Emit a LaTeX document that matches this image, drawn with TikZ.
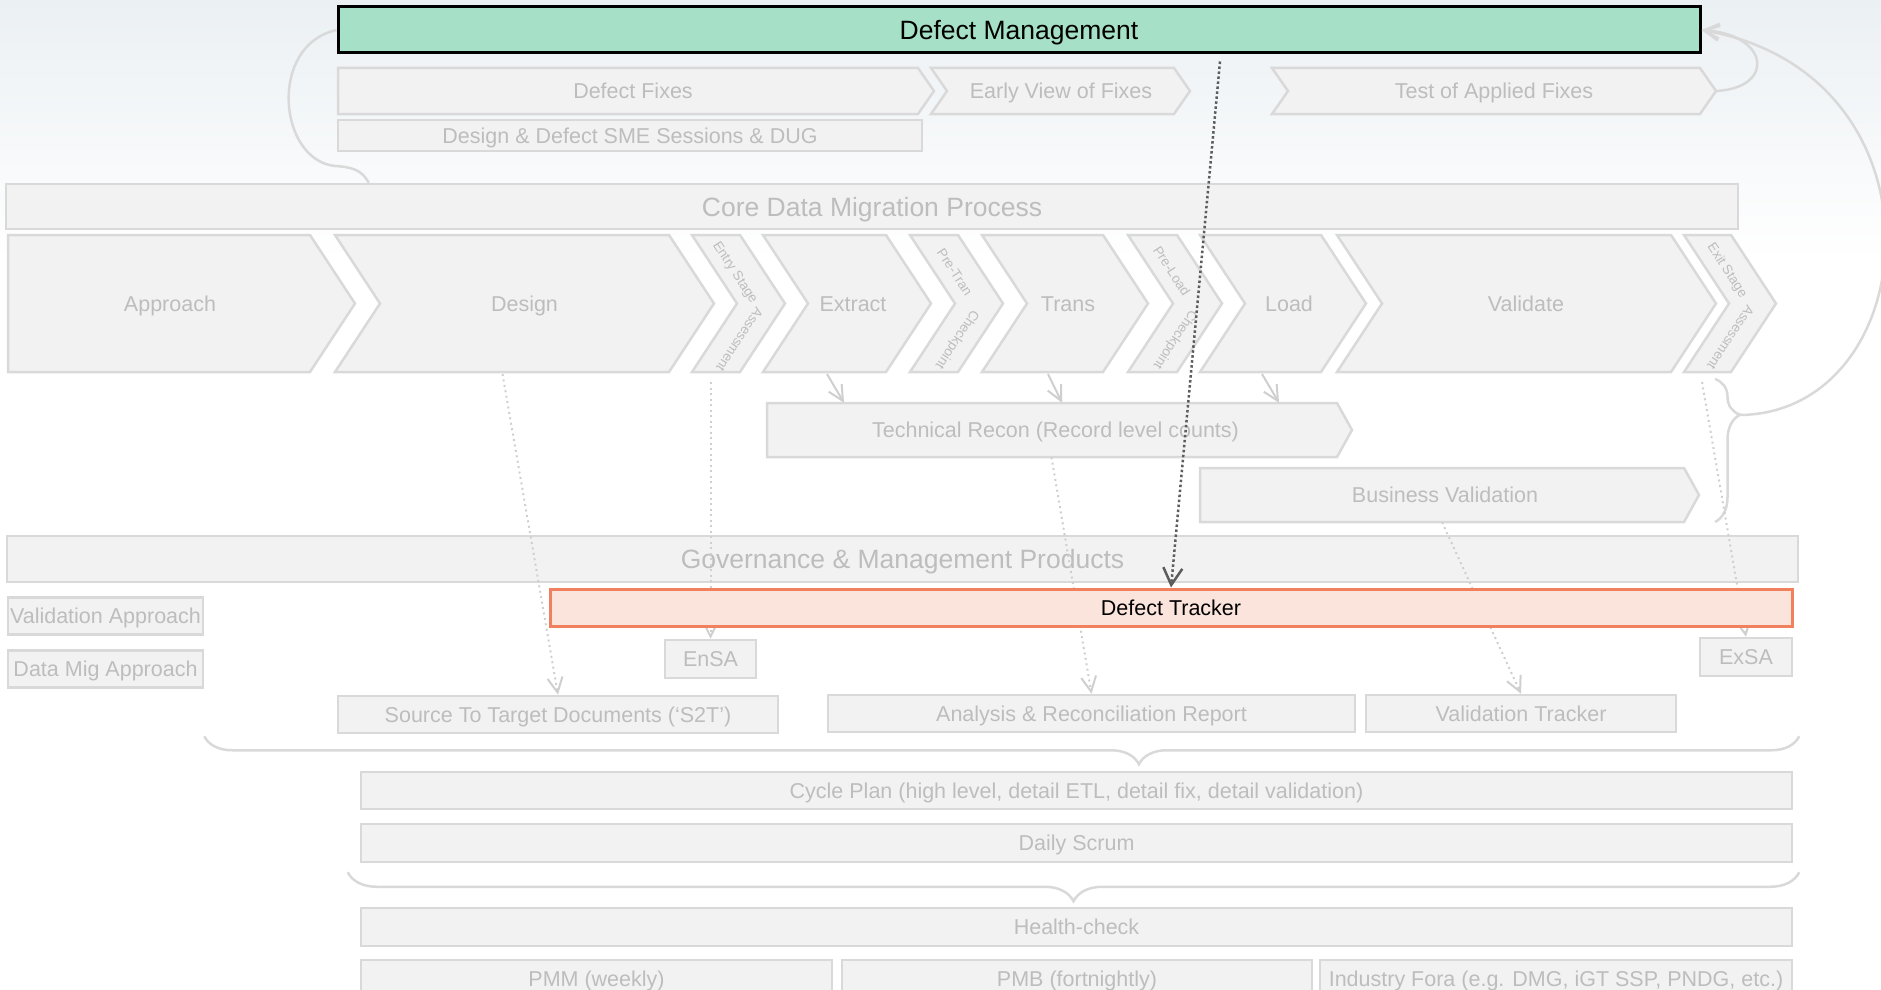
\documentclass[tikz,border=0pt]{standalone}
\usepackage{fontspec}
\setmainfont{Liberation Sans}
\usepackage{tikz}
\usetikzlibrary{arrows.meta,decorations.pathreplacing}

\definecolor{boxfill}{HTML}{F2F2F2}
\definecolor{boxline}{HTML}{D9D9D9}
\definecolor{greytext}{HTML}{BDBDBD}
\definecolor{dotline}{HTML}{CFCFCF}
\definecolor{mint}{HTML}{A6E0C7}
\definecolor{salmon}{HTML}{FBE4DC}
\definecolor{coral}{HTML}{F0805E}
\definecolor{darkdot}{HTML}{5C5C5C}
\definecolor{haze}{HTML}{EBF0F3}

\begin{document}
\begin{tikzpicture}[
x=1pt,y=-1pt,
box/.style={draw=boxline,fill=boxfill,line width=2.5pt},
txt/.style={text=greytext,inner sep=0pt,font=\fontsize{21.5}{25}\selectfont,text height=19.8pt,text depth=4.4pt},
bigtxt/.style={txt,font=\fontsize{26.5}{31}\selectfont,text height=24.4pt,text depth=5.4pt},
gatetxt/.style={txt,font=\fontsize{13.5}{16}\selectfont,text height=12.4pt,text depth=2.7pt},
panel/.style={box,txt,rectangle},
link/.style={draw=dotline,line width=2pt,-{Straight Barb[length=15pt,width=15pt]}},
trace/.style={link,dash pattern=on 2pt off 3.5pt},
feedback/.style={link,draw=boxline,line width=2.5pt},
brc/.style={draw=boxline,line width=2.5pt,decorate}
]
% faint sky behind the top rows
\fill[top color=haze,bottom color=white] (0,0) rectangle (1881,260);
\useasboundingbox (0,0) rectangle (1881,990);

% defect management band and the fix cycle
\node[panel,bigtxt,draw=black,fill=mint,text=black,line width=3pt,minimum width=1362pt,minimum height=46pt] (defmgmt) at (1019,30) {Defect Management};
\draw[box] (338,68) -- (918,68) -- (934,91) -- (918,114) -- (338,114) -- cycle;
\node[txt] (fixes) at (633,91) {Defect Fixes};
\draw[box] (931,68) -- (1174,68) -- (1190,91) -- (1174,114) -- (931,114) -- (947,91) -- cycle;
\node[txt] (earlyview) at (1061,91) {Early View of Fixes};
\draw[box] (1272,68) -- (1700,68) -- (1716,91) -- (1700,114) -- (1272,114) -- (1288,91) -- cycle;
\node[txt,minimum width=444pt] (testfix) at (1494,91) {Test of Applied Fixes};
\node[panel,minimum width=584pt,minimum height=31pt] (smedug) at (630,135.5) {Design \& Defect SME Sessions \& DUG};

% core process
\node[panel,bigtxt,minimum width=1732pt,minimum height=45pt] (core) at (872,206.5) {Core Data Migration Process};

\draw[box] (8,235) -- (310,235) -- (355,303.5) -- (310,372) -- (8,372) -- cycle;
\node[txt] (approach) at (170,303.5) {Approach};
\draw[box] (335,235) -- (669,235) -- (714,303.5) -- (669,372) -- (335,372) -- (380,303.5) -- cycle;
\node[txt] (design) at (524.5,303.5) {Design};
\draw[box] (692,235) -- (740,235) -- (785,303.5) -- (740,372) -- (692,372) -- (737,303.5) -- cycle;
\node[gatetxt,rotate=-56.7] (entrya) at (736,272) {Entry Stage};
\node[gatetxt,rotate=-123.3] (entryb) at (740,340) {Assessment};
\draw[box] (763,235) -- (886,235) -- (931,303.5) -- (886,372) -- (763,372) -- (808,303.5) -- cycle;
\node[txt] (extract) at (853,303.5) {Extract};
\draw[box] (910,235) -- (958,235) -- (1003,303.5) -- (958,372) -- (910,372) -- (955,303.5) -- cycle;
\node[gatetxt,rotate=-56.7] (pretrana) at (955,272) {Pre-Tran};
\node[gatetxt,rotate=-123.3] (pretranb) at (958,340) {Checkpoint};
\draw[box] (982,235) -- (1103,235) -- (1148,303.5) -- (1103,372) -- (982,372) -- (1027,303.5) -- cycle;
\node[txt] (trans) at (1068,303.5) {Trans};
\draw[box] (1128,235) -- (1177,235) -- (1222,303.5) -- (1177,372) -- (1128,372) -- (1173,303.5) -- cycle;
\node[gatetxt,rotate=-56.7] (preloada) at (1172,271) {Pre-Load};
\node[gatetxt,rotate=-123.3] (preloadb) at (1176,340) {Checkpoint};
\draw[box] (1200,235) -- (1321,235) -- (1366,303.5) -- (1321,372) -- (1200,372) -- (1245,303.5) -- cycle;
\node[txt] (load) at (1289,303.5) {Load};
\draw[box] (1337,235) -- (1671,235) -- (1716,303.5) -- (1671,372) -- (1337,372) -- (1382,303.5) -- cycle;
\node[txt] (validate) at (1526,303.5) {Validate};
\draw[box] (1684,235) -- (1731,235) -- (1776,303.5) -- (1731,372) -- (1684,372) -- (1729,303.5) -- cycle;
\node[gatetxt,rotate=-56.7] (exita) at (1728,270) {Exit Stage};
\node[gatetxt,rotate=-123.3] (exitb) at (1731,338) {Assessment};
\coordinate (base) at (0,372);

% reconciliation and validation
\draw[box] (767,403) -- (1337,403) -- (1352,430) -- (1337,457) -- (767,457) -- cycle;
\node[txt,minimum width=585pt,minimum height=54pt] (recon) at (1055.5,430) {Technical Recon (Record level counts)};
\draw[box] (1200,468) -- (1684,468) -- (1699,495) -- (1684,522) -- (1200,522) -- cycle;
\node[txt,minimum width=499pt,minimum height=54pt] (bizval) at (1445,495) {Business Validation};

\draw[link] ([shift={(-26pt,-2pt)}]extract |- base) -- ([xshift=-9pt]extract |- recon.north);
\draw[link] ([shift={(-20pt,-2pt)}]trans |- base) -- ([xshift=-6pt]trans |- recon.north);
\draw[link] ([shift={(-27pt,-2pt)}]load |- base) -- ([xshift=-10pt]load |- recon.north);

% right-hand brace feeding back to defect management
\draw[brc,decoration={brace,amplitude=25pt,aspect=0.25}] (1715,379) -- (1715,522);
\coordinate (cusp) at (1739,415);
\draw[feedback] (cusp) .. controls (1925,414) and (1955,75) .. (defmgmt.east);
\draw[feedback] (testfix.east) .. controls (1775,88) and (1770,35) .. (defmgmt.east);
\draw[draw=boxline,line width=2.5pt] ([xshift=364pt]core.north west) .. controls (362,170) and (352,167) .. (335,166) .. controls (278,160) and (268,45) .. (defmgmt.west);

% governance and products
\node[panel,bigtxt,minimum width=1791pt,minimum height=46pt] (gov) at (902.5,559) {Governance \& Management Products};
\node[panel,minimum width=195pt,minimum height=37pt] (valapp) at (105.5,616) {Validation Approach};
\node[panel,minimum width=195pt,minimum height=37pt] (migapp) at (105.5,669) {Data Mig Approach};
\node[panel,minimum width=91pt,minimum height=38pt] (ensa) at (710.5,659) {EnSA};
\node[panel,minimum width=92pt,minimum height=38pt] (exsa) at (1746,657) {ExSA};
\node[panel,minimum width=440pt,minimum height=37pt] (s2t) at (558,714.5) {Source To Target Documents (‘S2T’)};
\node[panel,minimum width=527pt,minimum height=37pt] (anrep) at (1091.5,713.5) {Analysis \& Reconciliation Report};
\node[panel,minimum width=310pt,minimum height=37pt] (valtrk) at (1521,713.5) {Validation Tracker};

\draw[trace] ([shift={(-22pt,-2pt)}]design |- base) -- (s2t.north);
\draw[trace] ([yshift=-10pt]ensa.north |- base) -- (ensa.north);
\draw[trace] ([xshift=-4pt]recon.south) -- (anrep.north);
\draw[trace] ([xshift=-3pt]bizval.south) -- (valtrk.north);
\draw[trace] ([shift={(-44pt,-10pt)}]exsa.north |- base) -- (exsa.north);

\node[panel,draw=coral,fill=salmon,text=black,line width=3pt,minimum width=1242pt,minimum height=37pt] (tracker) at (1171,607.5) {Defect Tracker};
\draw[link,draw=darkdot,line width=2.5pt,dash pattern=on 2.5pt off 2.5pt,-{Straight Barb[length=17pt,width=19pt]}] ([shift={(201pt,-7pt)}]defmgmt.south) -- (tracker.north);

% planning and oversight
\draw[brc,decoration={brace,mirror,amplitude=28pt,aspect=0.586}] ([yshift=-2pt]valapp.east |- s2t.south) -- ([yshift=-2pt]gov.east |- s2t.south);
\node[panel,minimum width=1431pt,minimum height=37pt] (cycle) at (1076.5,790.5) {Cycle Plan (high level, detail ETL, detail fix, detail validation)};
\node[panel,minimum width=1431pt,minimum height=38pt] (scrum) at (1076.5,843) {Daily Scrum};
\draw[brc,decoration={brace,mirror,amplitude=29pt,aspect=0.5}] ([shift={(-12pt,-9pt)}]scrum.south west) -- ([yshift=-9pt]gov.east |- scrum.south);
\node[panel,minimum width=1431pt,minimum height=38pt] (health) at (1076.5,927) {Health-check};
\node[panel,minimum width=471pt,minimum height=38pt] (pmm) at (596.5,979) {PMM (weekly)};
\node[panel,minimum width=470pt,minimum height=38pt] (pmb) at (1077,979) {PMB (fortnightly)};
\node[panel,minimum width=472pt,minimum height=38pt] (fora) at (1556,979) {Industry Fora (e.g. DMG, iGT SSP, PNDG, etc.)};
\end{tikzpicture}
\end{document}
